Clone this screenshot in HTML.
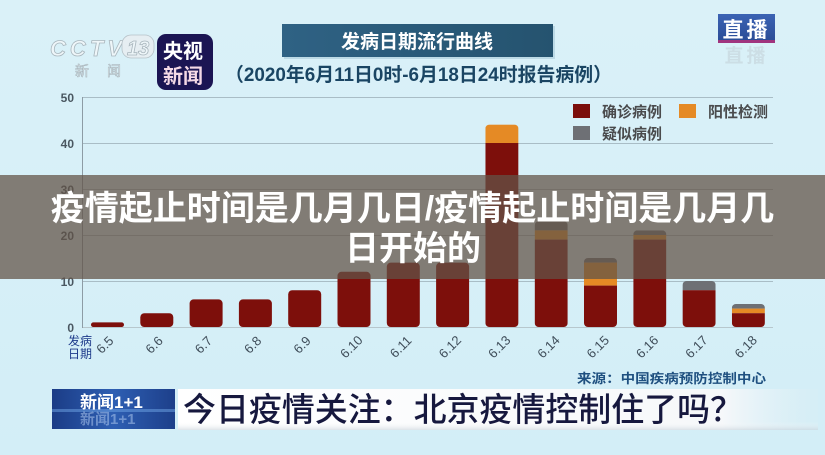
<!DOCTYPE html>
<html><head><meta charset="utf-8"><style>
html,body{margin:0;padding:0;}
body{width:825px;height:455px;overflow:hidden;background:#d6eff7;}
svg{display:block;}
</style></head><body>
<svg width="825" height="455" viewBox="0 0 825 455" xmlns="http://www.w3.org/2000/svg">
<defs>
<linearGradient id="bg" x1="0" y1="0" x2="0" y2="1">
<stop offset="0" stop-color="#daf1f8"/><stop offset="1" stop-color="#d3eef7"/>
</linearGradient>
<linearGradient id="tbox" x1="0" y1="0" x2="1" y2="0">
<stop offset="0" stop-color="#2f6284"/><stop offset="1" stop-color="#25536f"/>
</linearGradient>
<linearGradient id="zb" x1="0" y1="0" x2="0" y2="1">
<stop offset="0" stop-color="#3b63b4"/><stop offset="1" stop-color="#2a4b94"/>
</linearGradient>
<linearGradient id="xw" x1="0" y1="0" x2="1" y2="0">
<stop offset="0" stop-color="#1b3c86"/><stop offset="0.5" stop-color="#2e5fb3"/><stop offset="1" stop-color="#1d3f8a"/>
</linearGradient>
<linearGradient id="wb" x1="0" y1="0" x2="1" y2="0">
<stop offset="0" stop-color="#ffffff"/><stop offset="0.85" stop-color="#f6f8fa"/><stop offset="1" stop-color="#d9edf4" stop-opacity="0.3"/>
</linearGradient>
<linearGradient id="wbv" x1="0" y1="0" x2="0" y2="1">
<stop offset="0" stop-color="#ffffff" stop-opacity="0"/><stop offset="0.8" stop-color="#ffffff" stop-opacity="0"/><stop offset="1" stop-color="#c8d2da" stop-opacity="0.6"/>
</linearGradient>
<clipPath id="c8"><rect x="485.4" y="124.6" width="33" height="202.4" rx="4"/></clipPath>
<clipPath id="c9"><rect x="534.7" y="221.2" width="33" height="105.8" rx="4"/></clipPath>
<clipPath id="c10"><rect x="584" y="258" width="33" height="69" rx="4"/></clipPath>
<clipPath id="c11"><rect x="633.3" y="230.4" width="33" height="96.6" rx="4"/></clipPath>
<clipPath id="c12"><rect x="682.6" y="281" width="33" height="46" rx="4"/></clipPath>
<clipPath id="c13"><rect x="731.9" y="304" width="33" height="23" rx="4"/></clipPath>
</defs>
<rect x="0" y="0" width="825" height="455" fill="url(#bg)"/>

<!-- CCTV logo -->
<g font-family="'Liberation Sans', sans-serif" font-weight="bold" font-style="italic">
<text x="50" y="56" font-size="22" fill="#eef6f9" stroke="#a9b6bd" stroke-width="0.8" textLength="72">CCTV</text>
<rect x="122" y="35" width="32" height="23" rx="9" fill="#e6eef2" stroke="#b5c1c7" stroke-width="0.8"/>
<text x="127" y="55" font-size="20" fill="#eef6f9" stroke="#a9b6bd" stroke-width="0.8">13</text>
</g>
<text x="75" y="76" font-size="14" fill="#e9f1f4" stroke="#a9b6bd" stroke-width="0.6" font-family="'Liberation Sans','Noto Sans CJK SC',sans-serif" letter-spacing="18">新闻</text>

<!-- 央视新闻 badge -->
<rect x="157" y="34" width="56" height="56" rx="9" fill="#1b1553"/>
<g font-family="'Liberation Sans','Noto Sans CJK SC',sans-serif" font-weight="bold" font-size="20">
<text x="163" y="58" fill="#ffffff">央视</text>
<text x="163" y="83" fill="#f4d9e6">新闻</text>
</g>

<!-- Title box -->
<rect x="284" y="26" width="271" height="33" fill="#9fc3d4" opacity="0.5"/>
<rect x="282" y="24" width="271" height="33" fill="url(#tbox)"/>
<text x="417" y="48" text-anchor="middle" font-family="'Liberation Sans','Noto Sans CJK SC',sans-serif" font-weight="bold" font-size="19" fill="#ffffff">发病日期流行曲线</text>
<text x="225" y="81" font-family="'Liberation Sans','Noto Sans CJK SC',sans-serif" font-weight="bold" font-size="19" fill="#1a4563" textLength="387" lengthAdjust="spacingAndGlyphs">（2020年6月11日0时-6月18日24时报告病例）</text>

<!-- 直播 -->
<rect x="718" y="14" width="57" height="29" fill="url(#zb)"/>
<rect x="718" y="40" width="57" height="3" fill="#a0347e"/>
<text x="746.5" y="37" text-anchor="middle" font-family="'Liberation Sans','Noto Sans CJK SC',sans-serif" font-weight="bold" font-size="21" fill="#ffffff" letter-spacing="3">直播</text>
<text x="746.5" y="62" text-anchor="middle" font-family="'Liberation Sans','Noto Sans CJK SC',sans-serif" font-weight="bold" font-size="19" fill="#c5d2d9" opacity="0.6" letter-spacing="3">直播</text>

<!-- grid -->
<g stroke="#a9bdc6" stroke-width="1">
<line x1="82" y1="97.5" x2="773" y2="97.5"/>
<line x1="82" y1="143.5" x2="773" y2="143.5"/>
<line x1="82" y1="189.5" x2="773" y2="189.5"/>
<line x1="82" y1="235.5" x2="773" y2="235.5"/>
<line x1="82" y1="281.5" x2="773" y2="281.5"/>
<line x1="82" y1="327.5" x2="773" y2="327.5" stroke="#b7c7cd"/>
</g>
<line x1="82.5" y1="97" x2="82.5" y2="328" stroke="#8d9ca5" stroke-width="1"/>

<!-- y labels -->
<g font-family="'Liberation Sans',sans-serif" font-weight="bold" font-size="12" fill="#4a5761" text-anchor="end">
<text x="74" y="102">50</text>
<text x="74" y="148">40</text>
<text x="74" y="194">30</text>
<text x="74" y="240">20</text>
<text x="74" y="286">10</text>
<text x="74" y="332">0</text>
</g>

<!-- Legend -->
<rect x="573" y="104" width="17" height="14" fill="#7b0e0b"/>
<rect x="679" y="104" width="17" height="14" fill="#e58a25"/>
<rect x="573" y="126" width="17" height="14" fill="#6e7075"/>
<g font-family="'Liberation Sans','Noto Sans CJK SC',sans-serif" font-weight="bold" font-size="15" fill="#4a4b4d">
<text x="602" y="117" textLength="60" lengthAdjust="spacingAndGlyphs">确诊病例</text>
<text x="708" y="117" textLength="60" lengthAdjust="spacingAndGlyphs">阳性检测</text>
<text x="602" y="139" textLength="60" lengthAdjust="spacingAndGlyphs">疑似病例</text>
</g>

<!-- Bars -->
<g fill="#7d0f0b">
<rect x="91" y="322.4" width="33" height="4.6" rx="2.3"/>
<rect x="140.3" y="313.2" width="33" height="13.8" rx="4"/>
<rect x="189.6" y="299.4" width="33" height="27.6" rx="4"/>
<rect x="238.9" y="299.4" width="33" height="27.6" rx="4"/>
<rect x="288.2" y="290.2" width="33" height="36.8" rx="4"/>
<rect x="337.5" y="271.8" width="33" height="55.2" rx="4"/>
<rect x="386.8" y="262.6" width="33" height="64.4" rx="4"/>
<rect x="436.1" y="262.6" width="33" height="64.4" rx="4"/>
</g>
<g clip-path="url(#c8)"><rect x="485.4" y="124.6" width="33" height="18.4" fill="#e58a25"/><rect x="485.4" y="143" width="33" height="184" fill="#7d0f0b"/></g>
<g clip-path="url(#c9)"><rect x="534.7" y="221.2" width="33" height="9.2" fill="#6e7075"/><rect x="534.7" y="230.4" width="33" height="9.2" fill="#e58a25"/><rect x="534.7" y="239.6" width="33" height="87.4" fill="#7d0f0b"/></g>
<g clip-path="url(#c10)"><rect x="584" y="258" width="33" height="4.6" fill="#6e7075"/><rect x="584" y="262.6" width="33" height="23" fill="#e58a25"/><rect x="584" y="285.6" width="33" height="41.4" fill="#7d0f0b"/></g>
<g clip-path="url(#c11)"><rect x="633.3" y="230.4" width="33" height="4.6" fill="#6e7075"/><rect x="633.3" y="235" width="33" height="4.6" fill="#e58a25"/><rect x="633.3" y="239.6" width="33" height="87.4" fill="#7d0f0b"/></g>
<g clip-path="url(#c12)"><rect x="682.6" y="281" width="33" height="9.2" fill="#6e7075"/><rect x="682.6" y="290.2" width="33" height="36.8" fill="#7d0f0b"/></g>
<g clip-path="url(#c13)"><rect x="731.9" y="304" width="33" height="4.6" fill="#6e7075"/><rect x="731.9" y="308.6" width="33" height="4.6" fill="#e58a25"/><rect x="731.9" y="313.2" width="33" height="13.8" fill="#7d0f0b"/></g>

<!-- x labels -->
<g font-family="'Liberation Sans',sans-serif" font-size="13" fill="#3f4d59" text-anchor="middle">
<text transform="translate(108,348) rotate(-45)">6.5</text>
<text transform="translate(157.3,348) rotate(-45)">6.6</text>
<text transform="translate(206.6,348) rotate(-45)">6.7</text>
<text transform="translate(255.9,348) rotate(-45)">6.8</text>
<text transform="translate(305.2,348) rotate(-45)">6.9</text>
<text transform="translate(354.5,350) rotate(-45)">6.10</text>
<text transform="translate(403.8,350) rotate(-45)">6.11</text>
<text transform="translate(453.1,350) rotate(-45)">6.12</text>
<text transform="translate(502.4,350) rotate(-45)">6.13</text>
<text transform="translate(551.7,350) rotate(-45)">6.14</text>
<text transform="translate(601,350) rotate(-45)">6.15</text>
<text transform="translate(650.3,350) rotate(-45)">6.16</text>
<text transform="translate(699.6,350) rotate(-45)">6.17</text>
<text transform="translate(748.9,350) rotate(-45)">6.18</text>
</g>
<g font-family="'Liberation Sans','Noto Sans CJK SC',sans-serif" font-size="12" fill="#1d3a8a">
<text x="68" y="345">发病</text>
<text x="68" y="358">日期</text>
</g>

<!-- source -->
<text x="577" y="383" font-family="'Liberation Sans','Noto Sans CJK SC',sans-serif" font-weight="bold" font-size="13" fill="#1f5080" textLength="189" lengthAdjust="spacingAndGlyphs">来源：中国疾病预防控制中心</text>

<!-- bottom banner -->
<rect x="52" y="389" width="123" height="40" fill="url(#xw)"/>
<rect x="52" y="409" width="123" height="3" fill="#6fa6e6" opacity="0.5"/>
<text x="80" y="408" font-family="'Liberation Sans','Noto Sans CJK SC',sans-serif" font-weight="bold" font-size="17" fill="#ffffff">新闻1+1</text>
<text x="80" y="424" font-family="'Liberation Sans','Noto Sans CJK SC',sans-serif" font-weight="bold" font-size="15" fill="#9fbbe6" opacity="0.6">新闻1+1</text>
<rect x="178" y="389" width="640" height="41" fill="url(#wb)"/>
<rect x="178" y="389" width="640" height="41" fill="url(#wbv)"/>
<text x="183" y="421" font-family="'Liberation Sans','Noto Sans CJK SC',sans-serif" font-weight="500" font-size="33" fill="#16183e" textLength="560" lengthAdjust="spacingAndGlyphs">今日疫情关注：北京疫情控制住了吗？</text>

<!-- overlay band -->
<rect x="0" y="175" width="825" height="104" fill="rgb(98,83,72)" fill-opacity="0.74"/>
<g font-family="'Liberation Sans','Noto Sans CJK SC',sans-serif" font-weight="bold" font-size="34" fill="#ffffff" text-anchor="middle">
<text x="412.5" y="220">疫情起止时间是几月几日/疫情起止时间是几月几</text>
<text x="413" y="260">日开始的</text>
</g>
</svg>
</body></html>
